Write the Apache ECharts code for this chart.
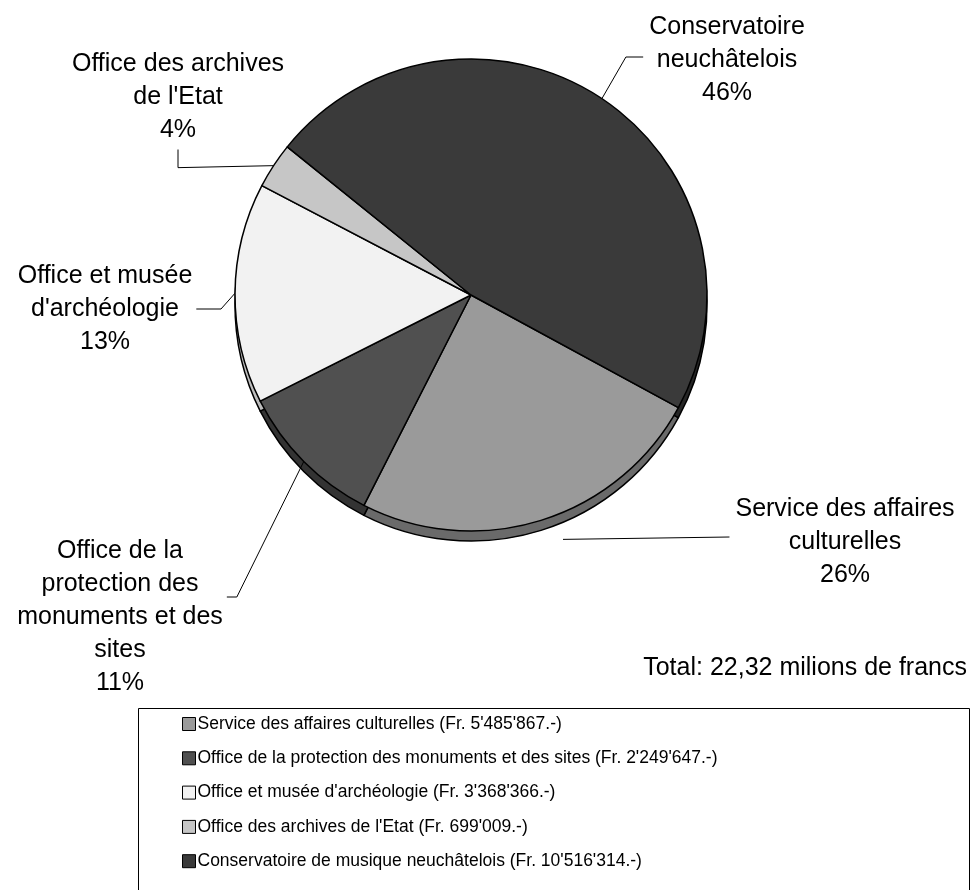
<!DOCTYPE html>
<html>
<head>
<meta charset="utf-8">
<script src="https://cdn.jsdelivr.net/npm/echarts@6/dist/echarts.min.js"></script>
<style>
  html, body { margin: 0; padding: 0; background: #fff; }
  #chart { width: 978px; height: 890px; }
</style>
</head>
<body>
<div id="chart"></div>
<script>
// services (same order as the legend)
var names = [
  'Service des affaires culturelles',
  'Office de la protection des monuments et des sites',
  "Office et musée d'archéologie",
  "Office des archives de l'Etat",
  'Conservatoire de musique neuchâtelois'
];
// amounts in francs
var amounts = [5485867, 2249647, 3368366, 699009, 10516314];
// label texts as printed on the pie
var sliceLabels = [
  'Service des affaires\nculturelles\n26%',
  'Office de la\nprotection des\nmonuments et des\nsites\n11%',
  "Office et musée\nd'archéologie\n13%",
  "Office des archives\nde l'Etat\n4%",
  'Conservatoire\nneuchâtelois\n46%'
];
var totalText = 'Total: 22,32 milions de francs';

var faceColors = ['#9a9a9a', '#505050', '#f2f2f2', '#c6c6c6', '#3a3a3a'];
var rimColors = ['#6a6a6a', '#333333', '#bdbdbd', '#9a9a9a', '#262626'];
// label centres (x, y)
var labelPos = [[845, 542], [120, 617], [105, 309], [178, 97], [727, 60]];

function fmtFr(v) {
  return String(v).replace(/\B(?=(\d{3})+(?!\d))/g, "'");
}

// leader line: start on the slice edge, bend, end at the label side
function leader(i, p0, w, h) {
  var c = labelPos[i];
  var left = c[0] - w / 2, right = c[0] + w / 2, bottom = c[1] + h / 2;
  if (i === 0) return [[p0[0] + 22, p0[1] + 19], [left - 6, c[1] - 5]];
  if (i === 1) return [p0, [right + 14, c[1] - 20], [right + 4, c[1] - 20]];
  if (i === 2) return [p0, [p0[0] - 14, c[1]], [right + 4, c[1]]];
  if (i === 3) return [p0, [c[0], p0[1] + 2], [c[0], bottom + 3]];
  return [p0, [p0[0] + 24, c[1] - 3], [left - 6, c[1] - 3]];
}

var font = "'Liberation Sans', Arial, Helvetica, sans-serif";

var faceData = [], rimData = [];
names.forEach(function (n, i) {
  faceData.push({ name: n, value: amounts[i], itemStyle: { color: faceColors[i] } });
  rimData.push({ name: n, value: amounts[i], itemStyle: { color: rimColors[i] } });
});

var myChart = echarts.init(document.getElementById('chart'));
var option = {
  animation: false,
  title: {
    text: totalText,
    right: 6,
    top: 651,
    textStyle: { fontFamily: font, fontSize: 25, fontWeight: 'normal', color: '#000' }
  },
  legend: {
    orient: 'vertical',
    left: 177,
    top: 709,
    icon: 'rect',
    itemWidth: 13,
    itemHeight: 13,
    itemGap: 14.3,
    itemStyle: { borderColor: '#000', borderWidth: 1 },
    data: names,
    formatter: function (name) {
      var i = names.indexOf(name);
      return name + ' (Fr. ' + fmtFr(amounts[i]) + '.-)';
    },
    textStyle: {
      fontFamily: font,
      fontSize: 17.5,
      lineHeight: 20,
      color: '#000',
      padding: [0, 0, 0, -3]
    }
  },
  graphic: [{
    type: 'rect',
    shape: { x: 138.5, y: 708.5, width: 831, height: 200 },
    style: { fill: 'none', stroke: '#000', lineWidth: 1 },
    silent: true
  }],
  series: [
    {
      type: 'pie',
      clockwise: true,
      startAngle: -28.5,
      center: [471, 295],
      radius: [0, 236],
      itemStyle: { borderColor: '#000', borderWidth: 1.5 },
      label: {
        show: true,
        position: 'outside',
        formatter: function (p) { return sliceLabels[p.dataIndex]; },
        fontFamily: font,
        fontSize: 25,
        lineHeight: 33,
        color: '#000',
        align: 'center'
      },
      labelLine: {
        show: true,
        length: 12,
        length2: 12,
        lineStyle: { color: '#000', width: 1 }
      },
      labelLayout: function (params) {
        var i = params.dataIndex;
        var p = labelPos[i];
        var res = { x: p[0], y: p[1], align: 'center', verticalAlign: 'middle' };
        var pts = params.labelLinePoints;
        if (pts && pts.length) {
          res.labelLinePoints = leader(i, pts[0], params.labelRect.width, params.labelRect.height);
        }
        return res;
      },
      data: faceData,
      z: 3
    },
    {
      // rim of the pie (depth)
      type: 'pie',
      silent: true,
      clockwise: true,
      startAngle: -28.5,
      center: [471, 305],
      radius: [0, 236],
      label: { show: false },
      labelLine: { show: false },
      itemStyle: { borderColor: '#000', borderWidth: 1.5 },
      legendHoverLink: false,
      data: rimData,
      z: 1
    }
  ]
};
myChart.setOption(option);
window.addEventListener('resize', function () { myChart.resize(); });
</script>
</body>
</html>
